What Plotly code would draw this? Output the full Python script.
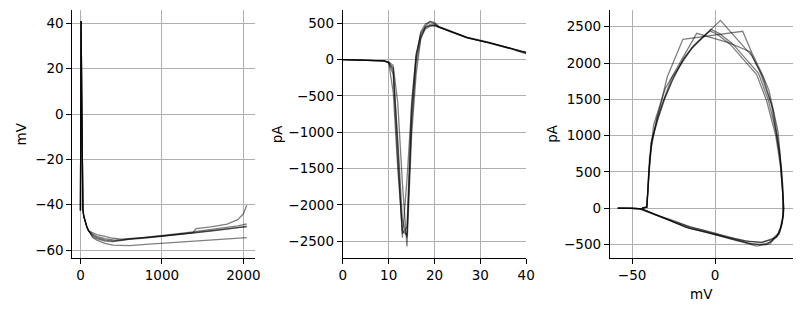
import plotly.graph_objects as go
from plotly.subplots import make_subplots

# ---------------- Panel 1: membrane potential (mV) vs time ----------------
t_long = [0, 4, 8, 15, 20, 25, 30, 40, 60, 80, 100, 150, 200, 300, 400, 500, 600,
          800, 1000, 1200, 1380, 1420, 1600, 1800, 1930, 2000, 2040]
v_spike = [-42.5, 0, 41, 10, -20, -36, -42, -45, -48, -50, -51.5]
v_tr1 = v_spike + [-52.5, -53.2, -54.0, -54.8, -55.2, -55.0, -54.4, -53.8, -53.0, -52.3, -50.5, -49.8, -48.6, -46.6, -44.0, -40.2]
v_tr2 = v_spike + [-53.0, -54.0, -55.0, -55.5, -55.6, -55.2, -54.5, -53.7, -52.8, -52.0, -51.8, -51.0, -50.2, -49.3, -48.8, -48.5]
v_tr3 = v_spike + [-54.0, -55.0, -56.0, -56.3, -55.8, -55.3, -54.7, -54.0, -53.2, -52.5, -52.3, -51.6, -50.8, -50.0, -49.7, -49.5]
v_tr4 = v_spike + [-54.5, -55.6, -57.0, -57.8, -58.0, -58.0, -57.5, -57.0, -56.5, -56.0, -55.9, -55.5, -55.0, -54.7, -54.5, -54.5]
v_tr5 = v_spike + [-53.5, -54.5, -55.5, -56.0, -55.5, -55.1, -54.5, -53.9, -53.1, -52.4, -52.2, -51.4, -50.6, -50.1, -49.9, -49.8]

# ---------------- Panel 2: membrane current (pA) vs time ----------------
t_short = list(range(0, 41))
i_pre = [0, -1, -2, -3, -4, -5, -7, -9, -12, -18]
i_tail = [450, 425, 400, 375, 350, 325, 305, 290, 278, 265, 250, 232, 215, 198, 180, 163, 145, 128, 112, 98]
i_tr1 = i_pre + [-40, -120, -1200, -2450, -1650, -650, 80, 330, 440, 480, 470] + i_tail
i_tr2 = i_pre + [-30, -80, -600, -1700, -2570, -1050, -200, 280, 460, 530, 510] + [v + 5 for v in i_tail[:-3]] + [120, 100, 82]
i_tr3 = i_pre + [-35, -450, -1500, -2350, -2420, -800, 20, 380, 490, 520, 495] + [v - 5 for v in i_tail[:-3]] + [125, 108, 90]
i_tr4 = i_pre + [-45, -200, -1400, -2400, -2300, -600, 60, 360, 450, 470, 480] + i_tail[:-2] + [118, 105]
i_tr5 = i_pre + [-40, -150, -1100, -2200, -2450, -900, -50, 300, 420, 460, 465] + i_tail

# ---------------- Panel 3: phase plot, current (pA) vs potential (mV) ----------------
ph_v1 = [-44, -41.3, -40.6, -40.0, -38.7, -34.8, -30.8, -25.7, -19.4, -13.4, -7.5, -2.6, 2.4, 10.3, 18.2, 26.1, 32.0, 37.0, 39.9, 40.9, 41.3,
         40.9, 39.9, 38.0, 34.0, 28.0, 20.0, 12.2, 6.0, -1.6, -8.0, -15.4, -25.0, -35.2, -40.0, -44.0, -50.0, -58.9]
ph_i1 = [2, 15, 200, 480, 890, 1214, 1490, 1765, 2040, 2224, 2362, 2463, 2408, 2270, 2064, 1857, 1490, 1030, 570, 203, 0,
         -118, -256, -347, -431, -470, -455, -417, -380, -325, -295, -256, -170, -95, -50, -8, 0, 3]
ph_v2 = [-44, -41.2, -40.5, -39.8, -38.2, -34.0, -30.0, -25.0, -19.0, -13.0, -7.0, -3.0, 1.0, 9.0, 17.0, 25.0, 31.0, 36.5, 39.5, 40.8, 41.4,
         41.0, 39.5, 37.5, 33.0, 27.0, 20.0, 12.0, 5.0, -2.0, -9.0, -16.0, -26.0, -36.0, -41.0, -45.0, -51.0, -58.9]
ph_i2 = [2, 15, 250, 520, 920, 1260, 1530, 1800, 2060, 2240, 2370, 2440, 2400, 2260, 2050, 1840, 1480, 1000, 560, 190, 0,
         -120, -280, -380, -470, -505, -480, -440, -395, -345, -310, -270, -180, -100, -55, -10, 0, 3]
ph_v3 = [-44, -41.2, -38.3, -28.8, -19.4, 16.6, 22.1, 28.1, 32.4, 37.9, 40.8, 41.0, 39.0, 33.0, 25.0, 15.0, 5.0, -5.0, -15.0, -25.0, -35.0, -44.0, -50.0, -58.5]
ph_i3 = [2, 20, 920, 1811, 2326, 2437, 2140, 1858, 1627, 1053, 300, -100, -330, -490, -520, -450, -390, -330, -280, -190, -90, -10, 0, 3]
ph_v4 = [-44, -41.0, -39.5, -35.0, -26.0, -14.0, 3.2, 13.0, 22.1, 29.0, 35.0, 38.8, 40.8, 41.0, 38.5, 31.0, 22.0, 12.0, 2.0, -8.0, -18.0, -28.0, -38.0, -46.0, -58.5]
ph_i4 = [2, 15, 700, 1250, 1800, 2200, 2588, 2330, 2100, 1800, 1350, 800, 200, -80, -360, -500, -490, -430, -370, -310, -260, -160, -70, -5, 3]
ph_v5 = [-44, -41.0, -40.0, -37.0, -30.0, -11.1, 8.0, 21.1, 27.0, 34.0, 39.0, 41.0, 40.5, 37.0, 28.0, 18.0, 8.0, -3.0, -13.0, -25.0, -36.0, -45.0, -58.5]
ph_i5 = [2, 15, 500, 1150, 1650, 2409, 2280, 2155, 1880, 1420, 700, 100, -200, -400, -470, -450, -400, -330, -270, -180, -85, -5, 3]

W, H = 811, 311
LINE = dict(color="rgba(0,0,0,0.5)", width=1.3)

fig = make_subplots(rows=1, cols=3)

for v in [v_tr1, v_tr2, v_tr3, v_tr4, v_tr5]:
    fig.add_trace(go.Scatter(x=t_long, y=v, mode="lines", line=LINE, showlegend=False), row=1, col=1)
for i in [i_tr1, i_tr2, i_tr3, i_tr4, i_tr5]:
    fig.add_trace(go.Scatter(x=t_short, y=i, mode="lines", line=LINE, showlegend=False), row=1, col=2)
for pv, pi in [(ph_v1, ph_i1), (ph_v2, ph_i2), (ph_v3, ph_i3), (ph_v4, ph_i4), (ph_v5, ph_i5)]:
    fig.add_trace(go.Scatter(x=pv, y=pi, mode="lines", line=LINE, showlegend=False), row=1, col=3)

def px_x(p):
    return p / W

def px_y(p):
    return 1 - p / H

top, bot = 9.5, 258
domains = [(69.5, 255), (344.3, 530.7), (615.7, 801.7)]
xranges = [[-99, 2141], [0, 40], [-63.4, 46.8]]
yranges = [[-63.5, 46.1], [-2730, 690], [-685, 2737]]
xticks = [[0, 1000, 2000], [0, 10, 20, 30, 40], [-50, 0]]
yticks = [list(range(-60, 41, 20)), list(range(-2500, 501, 500)), list(range(-500, 2501, 500))]

axis_common = dict(showline=True, linecolor="black", linewidth=1.1, mirror=False,
                   ticks="outside", ticklen=5, tickwidth=1.1, tickcolor="black",
                   showgrid=True, gridcolor="#b0b0b0", gridwidth=1.1, zeroline=False,
                   tickfont=dict(family="DejaVu Sans", size=13.5, color="black"))

for k in range(3):
    xa = "xaxis" if k == 0 else f"xaxis{k+1}"
    ya = "yaxis" if k == 0 else f"yaxis{k+1}"
    fig.layout[xa].update(domain=[px_x(domains[k][0]), px_x(domains[k][1])], range=xranges[k],
                          tickmode="array", tickvals=xticks[k], **axis_common)
    fig.layout[ya].update(domain=[px_y(bot), px_y(top)], range=yranges[k],
                          tickmode="array", tickvals=yticks[k], **axis_common)

title_font = dict(family="DejaVu Sans", size=13.5, color="black")
mid_y = px_y((top + bot) / 2)
annotations = [
    dict(text="mV", x=px_x(17), y=mid_y, textangle=-90),
    dict(text="pA", x=px_x(277), y=mid_y, textangle=-90),
    dict(text="pA", x=px_x(557), y=mid_y, textangle=-90),
    dict(text="mV", x=px_x(708.7), y=px_y(294), textangle=0),
]
for a in annotations:
    fig.add_annotation(xref="paper", yref="paper", showarrow=False, font=title_font,
                       xanchor="center", yanchor="middle", **a)

fig.update_layout(width=W, height=H, margin=dict(l=0, r=0, t=0, b=0),
                  paper_bgcolor="white", plot_bgcolor="white",
                  font=dict(family="DejaVu Sans", size=13.5, color="black"))

fig.write_html("out.html")
